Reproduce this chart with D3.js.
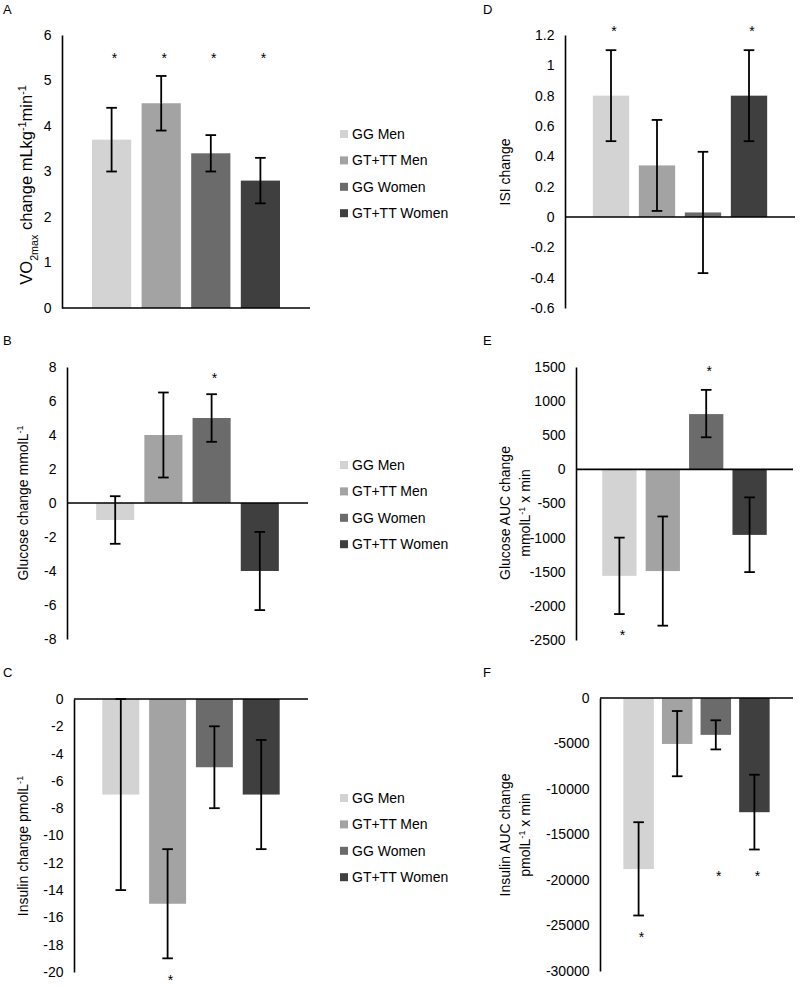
<!DOCTYPE html>
<html><head><meta charset="utf-8">
<script src="https://cdn.jsdelivr.net/npm/d3@7"></script>
<style>
html,body{margin:0;padding:0;background:#fff;}
svg text{font-family:"Liberation Sans",Arial,sans-serif;fill:#000;}
</style></head>
<body>
<svg id="chart" width="800" height="987"></svg>
<script>
// ---- data ----
const categories = ["GG Men", "GT+TT Men", "GG Women", "GT+TT Women"];
const colors = ["#d3d3d3", "#a3a3a3", "#6b6b6b", "#3f3f3f"];

const vo2Values = [3.7, 4.5, 3.4, 2.8];
const vo2Low    = [3.0, 3.9, 3.0, 2.3];
const vo2High   = [4.4, 5.1, 3.8, 3.3];
const vo2Stars  = [5.55, 5.55, 5.55, 5.55];
const vo2Ticks  = [0, 1, 2, 3, 4, 5, 6];

const glucoseValues = [-1, 4, 5, -4];
const glucoseLow    = [-2.4, 1.5, 3.6, -6.3];
const glucoseHigh   = [0.4, 6.5, 6.4, -1.7];
const glucoseStars  = [null, null, 7.55, null];
const glucoseTicks  = [-8, -6, -4, -2, 0, 2, 4, 6, 8];

const insulinValues = [-7, -15, -5, -7];
const insulinLow    = [-14, -19, -8, -11];
const insulinHigh   = [0, -11, -2, -3];
const insulinStars  = [null, -20.4, null, null];
const insulinTicks  = [-20, -18, -16, -14, -12, -10, -8, -6, -4, -2, 0];

const isiValues = [0.8, 0.34, 0.03, 0.8];
const isiLow    = [0.5, 0.04, -0.37, 0.5];
const isiHigh   = [1.1, 0.64, 0.43, 1.1];
const isiStars  = [1.245, null, null, 1.245];
const isiTicks  = [-0.6, -0.4, -0.2, 0, 0.2, 0.4, 0.6, 0.8, 1, 1.2];

const gAucValues = [-1560, -1490, 810, -960];
const gAucLow    = [-2120, -2290, 470, -1505];
const gAucHigh   = [-1000, -690, 1165, -410];
const gAucStars  = [-2385, null, 1485, null];
const gAucTicks  = [-2500, -2000, -1500, -1000, -500, 0, 500, 1000, 1500];

const iAucValues = [-18800, -5050, -4050, -12550];
const iAucLow    = [-23900, -8600, -5650, -16650];
const iAucHigh   = [-13650, -1430, -2450, -8430];
const iAucStars  = [-25950, null, -19200, -19200];
const iAucTicks  = [-30000, -25000, -20000, -15000, -10000, -5000, 0];

// ---- layout ----
const svg = d3.select("#chart");

const panels = [
  {letter:"A", lx:3, ly:14, x0:62, x1:310, yTop:35, yBot:308,
   values:vo2Values, low:vo2Low, high:vo2High, stars:vo2Stars, ticks:vo2Ticks,
   label:[{x:26, y:185, fs:16.5, parts:[["VO",0],["2max",-1],[" change mLkg",0],["-1",1],["min",0],["-1",1]]}],
   legend:{x:340, y:134}},
  {letter:"B", lx:3, ly:345, x0:67, x1:308, yTop:367, yBot:639,
   values:glucoseValues, low:glucoseLow, high:glucoseHigh, stars:glucoseStars, ticks:glucoseTicks,
   label:[{x:23, y:503, fs:14, parts:[["Glucose change mmolL",0],["-1",1]]}],
   legend:{x:340, y:465}},
  {letter:"C", lx:3, ly:677, x0:74, x1:308, yTop:699, yBot:972,
   values:insulinValues, low:insulinLow, high:insulinHigh, stars:insulinStars, ticks:insulinTicks,
   label:[{x:23, y:846, fs:14, parts:[["Insulin change pmolL",0],["-1",1]]}],
   legend:{x:340, y:798}},
  {letter:"D", lx:483, ly:14, x0:565, x1:795, yTop:35, yBot:308,
   values:isiValues, low:isiLow, high:isiHigh, stars:isiStars, ticks:isiTicks,
   label:[{x:505, y:172, fs:14, parts:[["ISI change",0]]}],
   legend:null},
  {letter:"E", lx:483, ly:345, x0:576, x1:793, yTop:367, yBot:640,
   values:gAucValues, low:gAucLow, high:gAucHigh, stars:gAucStars, ticks:gAucTicks,
   label:[{x:505, y:513, fs:14, parts:[["Glucose AUC change",0]]},
          {x:525, y:513, fs:14, parts:[["mmolL",0],["-1",1],[" x min",0]]}],
   legend:null},
  {letter:"F", lx:483, ly:677, x0:600, x1:793, yTop:698, yBot:971,
   values:iAucValues, low:iAucLow, high:iAucHigh, stars:iAucStars, ticks:iAucTicks,
   label:[{x:505, y:835, fs:14, parts:[["Insulin AUC change",0]]},
          {x:525, y:835, fs:14, parts:[["pmolL",0],["-1",1],[" x min",0]]}],
   legend:null}
];

panels.forEach(p => {
  const g = svg.append("g");
  const W = p.x1 - p.x0;
  const y = d3.scaleLinear().domain([d3.min(p.ticks), d3.max(p.ticks)]).range([p.yBot, p.yTop]);
  const x = d3.scalePoint().domain([-1, 0, 1, 2, 3, 4]).range([p.x0, p.x1]);
  const bw = W * 0.158;

  // panel letter
  g.append("text").attr("x", p.lx).attr("y", p.ly).attr("font-size", 13).text(p.letter);

  // bars
  g.selectAll("rect.bar").data(p.values).enter().append("rect")
    .attr("class", "bar")
    .attr("x", (d, i) => x(i) - bw / 2)
    .attr("width", bw)
    .attr("y", d => y(Math.max(0, d)))
    .attr("height", d => Math.abs(y(d) - y(0)))
    .attr("fill", (d, i) => colors[i]);

  // y axis (no tick marks, labels only)
  const axis = d3.axisLeft(y).tickValues(p.ticks).tickSize(0).tickPadding(10.5)
    .tickFormat(d => String(d));
  const ax = g.append("g").attr("transform", `translate(${p.x0},0)`).call(axis);
  ax.select(".domain").attr("stroke", "#000").attr("stroke-width", 1.6);
  ax.selectAll("text").attr("font-size", 14).attr("font-family", '"Liberation Sans",Arial,sans-serif').attr("fill", "#000");

  // zero line
  g.append("line").attr("x1", p.x0).attr("x2", p.x1).attr("y1", y(0)).attr("y2", y(0))
    .attr("stroke", "#000").attr("stroke-width", 1.6);

  // error bars
  const cap = 5.3;
  p.values.forEach((v, i) => {
    const cx = x(i);
    const eg = g.append("g").attr("stroke", "#000").attr("stroke-width", 1.8);
    eg.append("line").attr("x1", cx).attr("x2", cx).attr("y1", y(p.low[i])).attr("y2", y(p.high[i]));
    eg.append("line").attr("x1", cx - cap).attr("x2", cx + cap).attr("y1", y(p.low[i])).attr("y2", y(p.low[i]));
    eg.append("line").attr("x1", cx - cap).attr("x2", cx + cap).attr("y1", y(p.high[i])).attr("y2", y(p.high[i]));
  });

  // significance stars
  p.stars.forEach((s, i) => {
    if (s === null) return;
    g.append("text").attr("x", x(i) + 3).attr("y", y(s)).attr("dy", "0.57em")
      .attr("text-anchor", "middle").attr("font-size", 14).text("*");
  });

  // y label(s)
  p.label.forEach(l => {
    const t = g.append("text")
      .attr("transform", `translate(${l.x},${l.y}) rotate(-90)`)
      .attr("text-anchor", "middle").attr("dy", "0.35em").attr("font-size", l.fs);
    l.parts.forEach(([s, shift]) => {
      const ts = t.append("tspan").text(s);
      if (shift === 1) ts.attr("font-size", l.fs * 0.65).attr("baseline-shift", "super");
      if (shift === -1) ts.attr("font-size", l.fs * 0.65).attr("baseline-shift", "sub");
    });
  });

  // legend
  if (p.legend) {
    const lg = g.append("g");
    categories.forEach((c, i) => {
      const cy = p.legend.y + i * 26.4;
      lg.append("rect").attr("x", p.legend.x).attr("y", cy - 4).attr("width", 8).attr("height", 8).attr("fill", colors[i]);
      lg.append("text").attr("x", p.legend.x + 12).attr("y", cy).attr("dy", "0.35em").attr("font-size", 14).text(c);
    });
  }
});
</script>
</body></html>
